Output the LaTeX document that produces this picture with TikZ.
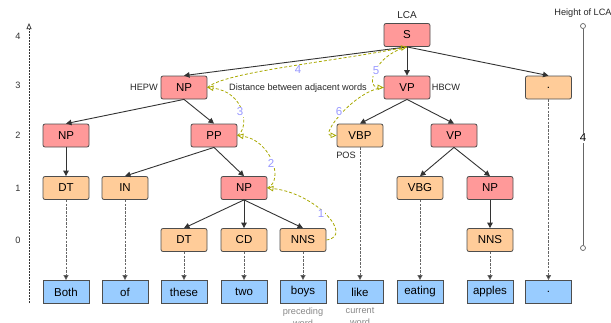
\documentclass[tikz,border=0pt]{standalone}
\usepackage{fontspec}
\setmainfont{Liberation Sans}
\usetikzlibrary{arrows.meta}
\definecolor{redfill}{HTML}{FF9999}
\definecolor{orfill}{HTML}{FFCC99}
\definecolor{bluefill}{HTML}{99CCFF}
\definecolor{bordercol}{HTML}{4D4D4D}
\definecolor{edgecol}{HTML}{333333}
\definecolor{leafcol}{HTML}{666666}
\definecolor{distcol}{HTML}{A8A800}
\definecolor{numcol}{HTML}{9999FF}
\definecolor{notecol}{HTML}{888888}
\begin{document}
\begin{tikzpicture}[x=1pt,y=1pt,
  box/.style={draw=bordercol, line width=0.8pt, rounded corners=2pt, minimum width=46pt, minimum height=23pt, inner sep=0pt, font=\fontsize{11.5}{13}\selectfont},
  redbox/.style={box, fill=redfill},
  orbox/.style={box, fill=orfill},
  wordbox/.style={box, rounded corners=0pt, fill=bluefill},
  tree/.style={draw=edgecol, line width=0.9pt, -{Triangle[length=5.5pt,width=5.5pt]}},
  leaf/.style={draw=leafcol, line width=0.8pt, dash pattern=on 2.5pt off 1.2pt, -{Triangle[length=5pt,width=5pt,fill=edgecol]}},
  dist/.style={draw=distcol, line width=0.8pt, dash pattern=on 3pt off 2pt, -{Triangle[open,length=6pt,width=5.5pt]}},
  num/.style={text=numcol, font=\fontsize{11.5}{13}\selectfont, fill=white, inner sep=0.5pt},
  small/.style={font=\fontsize{9.2}{11}\selectfont, text=black!85, inner sep=0pt},
  note/.style={font=\fontsize{9.2}{12}\selectfont, text=notecol, inner sep=0pt, align=center},
  axnum/.style={font=\fontsize{9.2}{11}\selectfont, text=edgecol, inner sep=0pt}
]
\useasboundingbox (0,0) rectangle (611,-322);

% tree nodes
\node[redbox] (S) at (407,-35) {S};
\node[redbox] (NPa) at (184,-87.5) {NP};
\node[redbox] (VPa) at (407,-87.5) {VP};
\node[orbox] (dotA) at (548.5,-87.5) {.};
\node[redbox] (NPb) at (66,-135.5) {NP};
\node[redbox] (PP) at (214,-135.5) {PP};
\node[orbox] (VBP) at (360,-135.5) {VBP};
\node[redbox] (VPb) at (454,-135.5) {VP};
\node[orbox] (DTa) at (66,-188) {DT};
\node[orbox] (IN) at (125,-188) {IN};
\node[redbox] (NPc) at (244,-188) {NP};
\node[orbox] (VBG) at (420,-188) {VBG};
\node[redbox] (NPd) at (490,-188) {NP};
\node[orbox] (DTb) at (184,-240) {DT};
\node[orbox] (CD) at (244,-240) {CD};
\node[orbox] (NNSa) at (303,-240) {NNS};
\node[orbox] (NNSb) at (490,-240) {NNS};

% words
\node[wordbox] (wBoth) at (66,-292) {Both};
\node[wordbox] (wOf) at (125,-292) {of};
\node[wordbox] (wThese) at (184,-292) {these};
\node[wordbox] (wTwo) at (244,-292) {two};
\node[wordbox] (wBoys) at (303,-292) {boys};
\node[wordbox] (wLike) at (360,-292) {like};
\node[wordbox] (wEating) at (420,-292) {eating};
\node[wordbox] (wApples) at (490,-292) {apples};
\node[wordbox] (wDot) at (548.5,-292) {.};

% tree edges
\foreach \a/\b in {S/NPa,S/VPa,S/dotA,NPa/NPb,NPa/PP,NPb/DTa,PP/IN,PP/NPc,NPc/DTb,NPc/CD,NPc/NNSa,VPa/VBP,VPa/VPb,VPb/VBG,VPb/NPd,NPd/NNSb}
  \draw[tree] (\a.south) -- (\b.north);

% leaf edges
\foreach \a/\b in {DTa/wBoth,IN/wOf,DTb/wThese,CD/wTwo,NNSa/wBoys,VBP/wLike,VBG/wEating,NNSb/wApples,dotA/wDot}
  \draw[leaf] (\a.south) -- (\b.north);

% distance path
\draw[dist] (NNSa.east) .. controls (355,-236) and (315,-193) .. (NPc.east);
\draw[dist] (NPc.east) .. controls (285,-180) and (270,-140) .. (PP.east);
\draw[dist] (PP.east) .. controls (250,-128) and (245,-92) .. (NPa.east);
\draw[dist] (NPa.east) .. controls (225,-72) and (330,-62) .. (S.south);
\draw[dist] (S.south) .. controls (375,-55) and (365,-87) .. (VPa.west);
\draw[dist] (VPa.west) .. controls (355,-90) and (320,-135) .. (VBP.west);
\node[num] (n1) at (321,-214) {1};
\node[num] (n2) at (271,-163) {2};
\node[num] (n3) at (240,-112) {3};
\node[num] (n4) at (298,-70) {4};
\node[num] (n5) at (376,-71) {5};
\node[num] (n6) at (339,-112) {6};

% labels
\node[small, font=\fontsize{10}{12}\selectfont] (lLCA) at (407,-15) {LCA};
\node[small] (lHEPW) at (144,-87.5) {HEPW};
\node[small] (lHBCW) at (446,-87.5) {HBCW};
\node[small] (lPOS) at (346,-155) {POS};
\node[small] (lDist) at (298,-88) {Distance between adjacent words};
\node[note, anchor=north] (lPrec) at (303,-307.5) {preceding\\word};
\node[note, anchor=north] (lCurr) at (360,-307.5) {current\\word};

% left axis
\coordinate (axB) at (29,-303);
\coordinate (axT) at (29,-23);
\draw[black!80, line width=0.7pt, dash pattern=on 2pt off 1pt, -{Triangle[open,length=6pt,width=5pt]}] (axB) -- (axT);
\node[axnum] (a4) at (18,-36) {4};
\node[axnum] (a3) at (18,-85) {3};
\node[axnum] (a2) at (18,-135) {2};
\node[axnum] (a1) at (18,-188) {1};
\node[axnum] (a0) at (18,-240) {0};

% right axis
\node[small] (lHeight) at (583,-13) {Height of LCA};
\node[circle, draw=leafcol, fill=white, line width=0.7pt, inner sep=0pt, minimum size=5pt] (hT) at (583,-26) {};
\node[circle, draw=leafcol, fill=white, line width=0.7pt, inner sep=0pt, minimum size=5pt] (hB) at (583,-248) {};
\draw[leafcol, line width=1pt] (hT) -- (hB);
\node[fill=white, inner sep=1pt, font=\fontsize{11.5}{13}\selectfont] (h4) at (583,-138) {4};
\end{tikzpicture}
\end{document}
